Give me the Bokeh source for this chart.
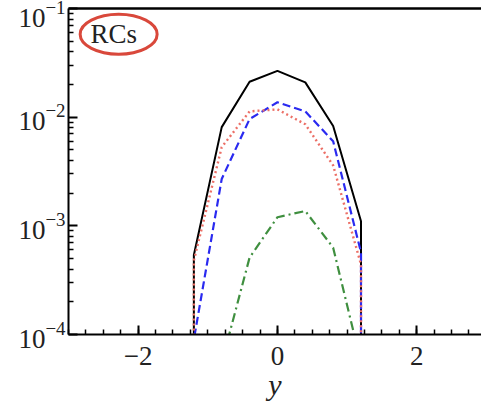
from bokeh.plotting import figure
from bokeh.models import FixedTicker, LinearAxis, Label
from bokeh.embed import file_html
from bokeh.resources import INLINE

# ---- data ----
y_pts = [-1.2, -0.8, -0.4, 0.0, 0.4, 0.8, 1.2]
total = [5.4e-4, 8.1e-3, 2.12e-2, 2.67e-2, 2.09e-2, 8.3e-3, 1.1e-3]
blue_vals = [9.0e-5, 2.7e-3, 9.6e-3, 1.37e-2, 1.13e-2, 6.0e-3, 5.7e-4]
red_vals = [4.8e-4, 5.3e-3, 1.13e-2, 1.18e-2, 8.6e-3, 3.6e-3, 4.4e-4]
green_vals = [1.0e-6, 5.5e-5, 5.1e-4, 1.2e-3, 1.37e-3, 6.3e-4, 5.5e-5]
floor = 1e-7  # histogram edges drop to zero (below the axis)

x_ticks = [-2, 0, 2]
x_tick_labels = {-2: "\u22122", 0: "0", 2: "2"}
y_ticks = [1e-4, 1e-3, 1e-2, 1e-1]
label_text = "RCs"

X_RANGE = (-3, 2.93)
Y_RANGE = (1e-4, 1e-1)
FONT = "Liberation Serif"

x_minor = [X_RANGE[0] + 0.25 * k for k in range(24)]
y_minor = [m * 10.0 ** e for e in (-4, -3, -2) for m in range(2, 10)]


def edged(vals):
    xs = [y_pts[0]] + y_pts + [y_pts[-1]]
    ys = [floor] + vals + [floor]
    return xs, ys


p = figure(width=481, height=403, x_range=X_RANGE, y_range=Y_RANGE,
           y_axis_type="log", output_backend="svg", toolbar_location=None,
           min_border_left=68, min_border_right=0, min_border_top=8,
           min_border_bottom=65)
p.outline_line_color = None
p.grid.visible = False
p.background_fill_color = "white"
p.border_fill_color = "white"

xs, ys = edged(total)
p.line(xs, ys, line_color="black", line_width=2)
xs, ys = edged(green_vals)
p.line(xs, ys, line_color="#3f8f3f", line_width=2.2, line_dash="9 4 2 4")
xs, ys = edged(blue_vals)
p.line(xs, ys, line_color="#2a2af0", line_width=2.2, line_dash="8 4")
xs, ys = edged(red_vals)
p.line(xs, ys, line_color="#ec6f66", line_width=2.4, line_dash="2 3")

# axes styling
xa = p.xaxis[0]
xa.ticker = FixedTicker(ticks=x_ticks, minor_ticks=x_minor)
xa.major_label_overrides = x_tick_labels
xa.axis_label = "y"
xa.axis_label_text_font = FONT
xa.axis_label_text_font_style = "italic"
xa.axis_label_text_font_size = "30px"
xa.axis_label_standoff = 0
xa.major_label_text_font = FONT
xa.major_label_text_font_size = "27px"
xa.major_label_standoff = 12

ya = p.yaxis[0]
ya.ticker = FixedTicker(ticks=y_ticks, minor_ticks=y_minor)
ya.major_label_text_font = FONT
ya.major_label_text_font_size = "27px"
ya.major_label_standoff = 3

for ax in (xa, ya):
    ax.axis_line_color = "black"
    ax.axis_line_width = 2
    ax.major_tick_in = 9
    ax.major_tick_out = 0
    ax.minor_tick_in = 5
    ax.minor_tick_out = 0
    ax.major_tick_line_color = "black"
    ax.minor_tick_line_color = "black"
    ax.major_tick_line_width = 2
    ax.minor_tick_line_width = 1.5
    ax.major_label_text_color = "#222222"
    ax.axis_label_text_color = "#222222"

top = LinearAxis(ticker=FixedTicker(ticks=[]), major_tick_line_color=None,
                 minor_tick_line_color=None, major_label_standoff=0,
                 axis_line_color="black", axis_line_width=2.5)
p.add_layout(top, "above")

# label with ellipse
p.ellipse(x=[-2.28], y=[0.058], width=77, height=40, width_units="screen",
          height_units="screen", fill_color=None, line_color="#d9483b", line_width=3)
p.add_layout(Label(x=-2.35, y=0.058, text=label_text, text_font=FONT,
                   text_font_size="27px", text_align="center",
                   text_baseline="middle", text_color="#222222"))

open("out.html", "w").write(file_html(p, INLINE))
